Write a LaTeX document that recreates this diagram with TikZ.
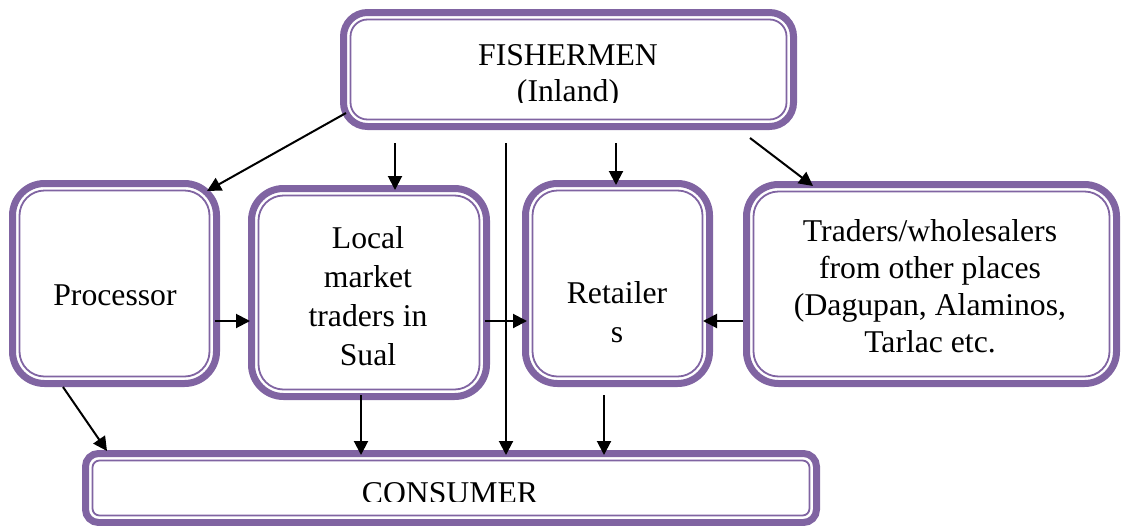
\documentclass[tikz,border=0pt]{standalone}
\usepackage{fontspec}
\setmainfont{Liberation Serif}
\usetikzlibrary{arrows.meta,calc}
\definecolor{fpurple}{HTML}{8064A2}
\tikzset{
  box/.style n args={4}{draw=fpurple, line width=7pt, rounded corners=#3, inner sep=0pt, outer sep=0pt,
    minimum width=#1, minimum height=#2,
    path picture={\draw[fpurple, line width=1.8pt, rounded corners=#4]
      ([xshift=7pt,yshift=-7pt]path picture bounding box.north west) rectangle
      ([xshift=-7pt,yshift=7pt]path picture bounding box.south east);}},
  lbl/.style={anchor=base, align=center, inner sep=0pt, font=\fontsize{31.7}{38}\selectfont},
  arr/.style={line width=2pt, -{Triangle[length=14pt,width=14pt]}},
}
\begin{document}
\begin{tikzpicture}[x=1pt,y=-1pt]
\useasboundingbox (0,0) rectangle (1121,525);
% boxes
\node[box={450pt}{114pt}{24pt}{17pt}] (fish) at (568.5,69.5) {};
\node[box={204pt}{200pt}{32pt}{25pt}] (proc) at (114.5,283.5) {};
\node[box={235pt}{208pt}{32pt}{25pt}] (local) at (369,292.5) {};
\node[box={184pt}{200pt}{32pt}{25pt}] (ret) at (617.5,283.5) {};
\node[box={370pt}{199pt}{32pt}{25pt}] (trad) at (931.5,284) {};
\node[box={731pt}{69pt}{13pt}{7pt}] (cons) at (451,488) {};
% texts (multi-line nodes: base = last line)
\begin{scope}
\clip (0,0) rectangle (1121,102);
\node[lbl, font=\fontsize{31.7}{36}\selectfont] (fishtext) at (568,101) {FISHERMEN\\(Inland)};
\end{scope}
\node[lbl] (proctext) at (115,305) {Processor};
\node[lbl, font=\fontsize{31.7}{39}\selectfont] (localtext) at (368,365) {Local\\market\\traders in\\Sual};
\node[lbl, font=\fontsize{31.7}{39}\selectfont] (rettext) at (617,342) {Retailer\\s};
\node[lbl, font=\fontsize{31.7}{36.7}\selectfont] (tradtext) at (930,352) {Traders/wholesalers\\from other places\\(Dagupan, Alaminos,\\Tarlac etc.};
\begin{scope}
\clip (0,400) rectangle (1121,501.5);
\node[lbl] (constext) at (450,503) {CONSUMER};
\end{scope}
% connectors
\draw[arr] ($(fish.south west)+(2.5,-13.5)$) -- ($(proc.north east)+(-9.5,7.5)$);
\draw[arr] ($(fish.south)+(-173.5,16.5)$) -- ($(local.north)+(26,1.5)$);
\draw[arr] ($(fish.south)+(-62.5,16.5)$) -- ($(cons.north)+(55,1.5)$);
\draw[arr] ($(fish.south)+(47.5,16.5)$) -- ($(ret.north)+(-1.5,1.5)$);
\draw[arr] ($(fish.south east)+(-43.5,11.5)$) -- ($(trad.north west)+(66.5,1.5)$);
\draw[arr] ($(proc.east)+(-1.5,37.5)$) -- ($(local.west)+(-1.5,28.5)$);
\draw[arr] ($(local.east)+(-1.5,28.5)$) -- ($(ret.west)+(1.5,37.5)$);
\draw[arr] ($(trad.west)+(-3.5,37)$) -- ($(ret.east)+(-6.5,37.5)$);
\draw[arr] ($(proc.south west)+(50.5,3.5)$) -- ($(cons.north west)+(21.5,-2.5)$);
\draw[arr] ($(local.south)+(-8,-1.5)$) -- ($(cons.north)+(-90,1.5)$);
\draw[arr] ($(ret.south)+(-13.5,11.5)$) -- ($(cons.north)+(153,1.5)$);
\end{tikzpicture}
\end{document}
